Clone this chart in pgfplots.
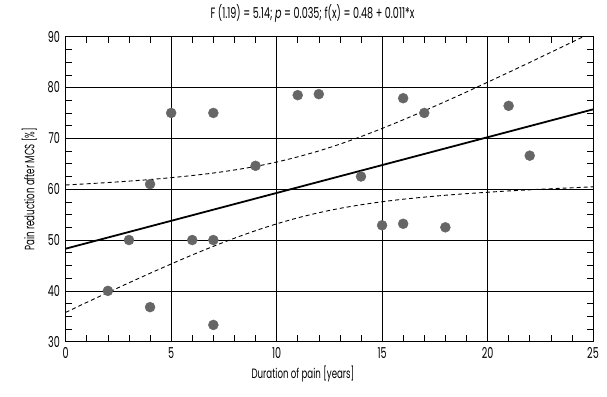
\documentclass[border=0pt]{standalone}
\usepackage{pgfplots}
\pgfplotsset{compat=1.18}
\usepackage{fontspec}
\setmainfont[FakeStretch=0.64]{Poppins}
\begin{document}
\fontsize{14}{16}\selectfont
\begin{tikzpicture}
\begin{axis}[
  name=ax,
  scale only axis,
  width=527.3pt, height=305pt,
  xmin=0, xmax=25, ymin=30, ymax=90,
  xtick={0,5,...,25}, ytick={30,40,...,90},
  minor x tick num=4, minor y tick num=3,
  grid=major,
  major grid style={black, line width=0.7pt},
  axis line style={black, line width=0.8pt},
  tick style={black, line width=0.6pt},
  major tick length=0pt,
  minor tick length=6.5pt,
  tick align=inside,
  /pgf/number format/assume math mode=true,
  ticklabel style={font=\fontsize{15}{16}\selectfont},
  xticklabel style={yshift=-1pt},
  yticklabel style={xshift=-1pt},
  xlabel={Duration of pain [years]},
  ylabel={Pain reduction after MCS [\%]},
  xlabel style={at={(rel axis cs:0.45,0)}, anchor=north, yshift=-19pt, font=\fontsize{13.5}{15}\selectfont},
  ylabel style={at={(rel axis cs:0,0.5)}, anchor=south, yshift=24pt, font=\fontsize{13.5}{15}\selectfont},
  title={F (1.19) = 5.14; \textit{p} = 0.035; f(x) = 0.48 + 0.011*x},
  title style={at={(rel axis cs:0.468,1)}, anchor=south, yshift=3pt, font=\fontsize{15}{16}\selectfont},
  clip=true,
]
\addplot[only marks, mark=*, mark size=5pt, color=black!60, mark options={draw=none, fill=black!60}] coordinates {
(2,40) (3,50) (4,61) (4,36.8) (5,75) (6,50) (7,50) (7,75) (7,33.3)
(9,64.6) (11,78.5) (12,78.7) (14,62.5) (15,52.9) (16,53.2) (16,77.9)
(17,75) (18,52.5) (21,76.4) (22,66.6)
};
\addplot[black, line width=1.8pt] coordinates {(0,48.3) (25,75.7)};
\addplot[black, line width=0.9pt, dash pattern=on 4pt off 3pt, smooth] coordinates {
(0,60.83) (1,61.06) (2,61.31) (3,61.59) (4,61.90) (5,62.27) (6,62.69) (7,63.18)
(8,63.78) (9,64.48) (10,65.34) (11,66.36) (12,67.53) (13,68.87) (14,70.35)
(15,71.95) (16,73.65) (17,75.42) (18,77.25) (19,79.12) (20,81.04) (21,82.98)
(22,84.94) (23,86.93) (24,88.92) (25,90.93)
};
\addplot[black, line width=0.9pt, dash pattern=on 4pt off 3pt, smooth] coordinates {
(0,35.77) (1,37.74) (2,39.67) (3,41.59) (4,43.46) (5,45.29) (6,47.07) (7,48.76)
(8,50.36) (9,51.84) (10,53.18) (11,54.36) (12,55.37) (13,56.23) (14,56.93)
(15,57.53) (16,58.03) (17,58.44) (18,58.81) (19,59.12) (20,59.40) (21,59.66)
(22,59.88) (23,60.09) (24,60.28) (25,60.47)
};
\end{axis}
\pgfresetboundingbox
\path[use as bounding box] ([xshift=-65.7pt,yshift=-54.3pt]ax.south west) rectangle ([xshift=14pt,yshift=36.7pt]ax.north east);
\end{tikzpicture}
\end{document}
